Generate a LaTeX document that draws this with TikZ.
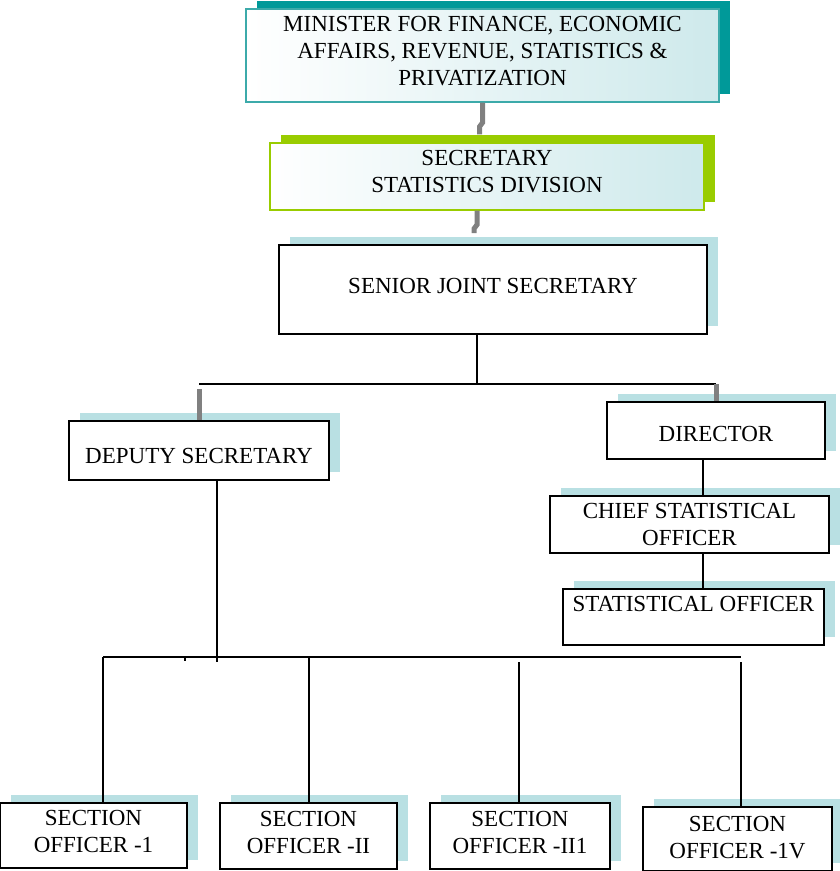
\documentclass[tikz,border=0pt]{standalone}
\usepackage{fontspec}
\setmainfont{Liberation Serif}
\usetikzlibrary{calc,shadows,positioning}

\definecolor{tealshade}{RGB}{0,153,153}
\definecolor{tealline}{RGB}{60,170,170}
\definecolor{limeshade}{RGB}{153,204,0}
\definecolor{paleblue}{RGB}{185,224,227}
\definecolor{linegray}{RGB}{128,128,128}

\tikzset{
	postbox/.style={draw=black, line width=1.8pt, fill=white, inner sep=0pt, align=center, font=\fontsize{23}{27}\selectfont},
	plainpost/.style={postbox, drop shadow={shadow xshift=11pt, shadow yshift=8pt, opacity=1, fill=paleblue}},
	tealpost/.style={postbox, draw=tealline, line width=1.4pt, left color=white, right color=paleblue!70, drop shadow={shadow xshift=11pt, shadow yshift=8pt, opacity=1, fill=tealshade}},
	limepost/.style={postbox, draw=limeshade, line width=1.4pt, left color=white, right color=paleblue!70, drop shadow={shadow xshift=11pt, shadow yshift=8pt, opacity=1, fill=limeshade}},
	conn/.style={black, line width=1.8pt},
	gconn/.style={linegray, line width=5pt}
}

\begin{document}
\begin{tikzpicture}[x=1pt, y=-1pt]
			
			\useasboundingbox (0,0) rectangle (840,871);
			
			\node[tealpost, text depth=10pt, minimum width=473pt, minimum height=93pt] (minister) at (482.5,55.5)
				{MINISTER FOR FINANCE, ECONOMIC\\AFFAIRS, REVENUE, STATISTICS \&\\PRIVATIZATION};
			\node[limepost, text depth=10pt, minimum width=434pt, minimum height=67pt] (secretary) at (487,176.5)
				{SECRETARY\\STATISTICS DIVISION};
			\node[plainpost, text depth=8pt, minimum width=428pt, minimum height=89pt] (senior) at (493,289.5)
				{SENIOR JOINT SECRETARY};
			
			\node[plainpost, text height=26pt, minimum width=260pt, minimum height=59pt] (deputy) at (199,450.5) {DEPUTY SECRETARY};
			\node[plainpost, text height=22pt, minimum width=218pt, minimum height=57pt] (director) at (716,430.5) {DIRECTOR};
			\node[plainpost, minimum width=279pt, minimum height=57pt] (chief) at (689.5,524.5) {CHIEF STATISTICAL\\OFFICER};
			\node[plainpost, minimum width=261pt, minimum height=56pt] (statofficer) at (693.5,617) {STATISTICAL OFFICER\\\mbox{}};
			
			\node[plainpost, text depth=8pt, minimum width=187pt, minimum height=65pt] (sec1) at (93.5,835.5) {SECTION\\OFFICER -1};
			\node[plainpost, text depth=8pt, minimum width=177pt, minimum height=66pt] (sec2) at (308.5,836) {SECTION\\OFFICER -II};
			\node[plainpost, text depth=8pt, minimum width=180pt, minimum height=66pt] (sec3) at (520,836) {SECTION\\OFFICER -II1};
			\node[plainpost, text depth=4pt, line width=2.4pt, minimum width=189pt, minimum height=64pt] (sec4) at (737.5,839) {SECTION\\OFFICER -1V};
			
			\draw[gconn] (minister.south) -- ++(0,20) -- ++(-3,4) -- ($(minister.south |- secretary.north)+(-3,-8)$);
			\coordinate (s2) at ([xshift=-10pt]secretary.south);
			\draw[gconn] (s2) -- ++(0,14) -- ++(-3,4) -- ($(s2 |- senior.north)+(-3,-11)$);
			
			\draw[conn] ([xshift=-16pt]senior.south) -- ++(0,49) coordinate (hub);
			\draw[conn] (deputy.north |- hub) -- (director.north |- hub);
			\draw[gconn] ($(deputy.north |- hub)+(0,5)$) -- (deputy.north);
			\draw[gconn] (director.north |- hub) -- (director.north);
			
			\coordinate (d2) at ([xshift=-13pt]director.south);
			\draw[conn] (d2) -- (d2 |- chief.north);
			\coordinate (c2) at ([xshift=13.5pt]chief.south);
			\draw[conn] (c2) -- (c2 |- statofficer.north);
			
			\draw[conn] ([xshift=18pt]deputy.south) -- ++(0,181);
			\draw[conn] (103,657) -- (741,657);
			\draw[conn] (185,657) -- ++(0,4);
			\foreach \n/\x/\y in {sec1/103/657, sec2/309/657, sec3/519/662, sec4/741/662}{
				\coordinate (t) at (\x,\y);
				\draw[conn] (t) -- (t |- \n.north);
			}
			
		\end{tikzpicture}
\end{document}
